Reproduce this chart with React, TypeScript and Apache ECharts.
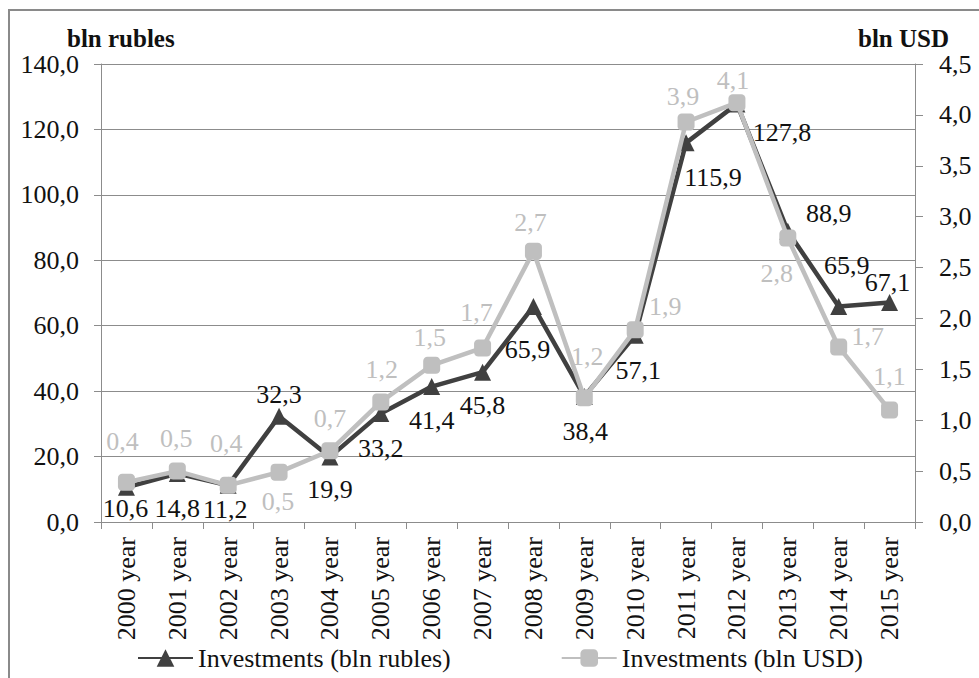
import React, { useEffect, useRef } from "react";
import * as echarts from "echarts";

const categories = [
  "2000 year", "2001 year", "2002 year", "2003 year", "2004 year", "2005 year",
  "2006 year", "2007 year", "2008 year", "2009 year", "2010 year", "2011 year",
  "2012 year", "2013 year", "2014 year", "2015 year",
];
const rublesValues = [10.6, 14.8, 11.2, 32.3, 19.9, 33.2, 41.4, 45.8, 65.9, 38.4, 57.1, 115.9, 127.8, 88.9, 65.9, 67.1];
const usdValues = [0.39, 0.5, 0.36, 0.49, 0.7, 1.18, 1.54, 1.71, 2.66, 1.22, 1.89, 3.93, 4.12, 2.79, 1.72, 1.1];

const leftAxisMin = 0;
const leftAxisMax = 140;
const leftAxisInterval = 20;
const rightAxisMin = 0;
const rightAxisMax = 4.5;
const rightAxisInterval = 0.5;

const rublesName = "Investments (bln rubles)";
const usdName = "Investments (bln USD)";
const leftUnit = "bln rubles";
const rightUnit = "bln USD";

// label offsets (style): dx, dy from the marker centre
const rublesLabelOffsets = [
  [-1, 21], [0, 35], [-3, 24], [0, -22], [0, 33], [0, 35], [0, 34], [0, 33],
  [-6, 43], [1, 35], [3, 35], [27, 35], [45, 29], [41, -18], [8, -41], [-2, -20],
];
const usdLabelOffsets = [
  [-4, -41], [-1, -33], [-2, -42], [-1, 29], [0, -32], [1, -32], [-2, -28], [-6, -35],
  [-3, -29], [3, -41], [30, -23], [-3, -26], [-4, -22], [-11, 35], [29, -10], [0, -34],
];

const FONT = "'Liberation Serif', 'Times New Roman', serif";
const DARK = "#404040";
const LIGHT = "#bfbfbf";
const AXIS = "#8c8c8c";

const fmt = (v: number) => v.toFixed(1).replace(".", ",");

export default function App() {
  const ref = useRef<HTMLDivElement>(null);
  useEffect(() => {
    if (!ref.current) return;
    const chart = echarts.init(ref.current, undefined, { renderer: "svg" });
    chart.setOption({
      animation: false,
      backgroundColor: "#ffffff",
      grid: { left: 101, right: 64, top: 64, bottom: 156, containLabel: false },
      graphic: [
        {
          type: "rect",
          shape: { x: 9, y: 10, width: 1000, height: 1000 },
          style: { fill: "none", stroke: "#8a8a8a", lineWidth: 2 },
          silent: true,
        },
        {
          type: "text",
          x: 67,
          y: 38.5,
          style: {
            text: leftUnit,
            font: `bold 25px ${FONT}`,
            fill: "#111",
            textAlign: "left",
            textVerticalAlign: "middle",
          },
        },
        {
          type: "text",
          x: 949,
          y: 38.5,
          style: {
            text: rightUnit,
            font: `bold 25px ${FONT}`,
            fill: "#111",
            textAlign: "right",
            textVerticalAlign: "middle",
          },
        },
      ],
      legend: {
        left: 137,
        top: 645,
        padding: 0,
        itemWidth: 55,
        itemHeight: 22,
        itemGap: 110,
        textStyle: { fontFamily: FONT, fontSize: 26, color: "#111" },
        data: [rublesName, usdName],
      },
      xAxis: {
        type: "category",
        data: categories,
        boundaryGap: true,
        axisLine: { show: true, lineStyle: { color: AXIS, width: 1 } },
        axisTick: { show: true, length: 7, lineStyle: { color: AXIS } },
        axisLabel: {
          rotate: 90,
          margin: 15,
          interval: 0,
          fontFamily: FONT,
          fontSize: 26,
          color: "#111",
        },
      },
      yAxis: [
        {
          type: "value",
          min: leftAxisMin,
          max: leftAxisMax,
          interval: leftAxisInterval,
          position: "left",
          axisLine: { show: true, lineStyle: { color: AXIS, width: 1 } },
          axisTick: { show: true, length: 7, lineStyle: { color: AXIS } },
          splitLine: { show: true, lineStyle: { color: AXIS, width: 1 } },
          axisLabel: {
            margin: 22,
            fontFamily: FONT,
            fontSize: 26,
            color: "#111",
            formatter: (v: number) => fmt(v),
          },
        },
        {
          type: "value",
          min: rightAxisMin,
          max: rightAxisMax,
          interval: rightAxisInterval,
          position: "right",
          axisLine: { show: true, lineStyle: { color: AXIS, width: 1 } },
          axisTick: { show: true, length: 8, lineStyle: { color: AXIS } },
          splitLine: { show: false },
          axisLabel: {
            margin: 24,
            fontFamily: FONT,
            fontSize: 26,
            color: "#111",
            formatter: (v: number) => fmt(v),
          },
        },
      ],
      series: [
        {
          name: rublesName,
          type: "line",
          yAxisIndex: 0,
          symbol: "triangle",
          symbolSize: 17,
          lineStyle: { color: DARK, width: 4.5 },
          itemStyle: { color: DARK },
          label: {
            show: true,
            position: "inside",
            fontFamily: FONT,
            fontSize: 26,
            color: "#111",
            formatter: (p: any) => fmt(p.value),
          },
          data: rublesValues.map((v, i) => ({
            value: v,
            label: { offset: rublesLabelOffsets[i] },
          })),
          z: 2,
        },
        {
          name: usdName,
          type: "line",
          yAxisIndex: 1,
          symbol: "roundRect",
          symbolSize: 17,
          lineStyle: { color: LIGHT, width: 4.5 },
          itemStyle: { color: LIGHT },
          label: {
            show: true,
            position: "inside",
            fontFamily: FONT,
            fontSize: 26,
            color: LIGHT,
            formatter: (p: any) => fmt(p.value),
          },
          data: usdValues.map((v, i) => ({
            value: v,
            label: { offset: usdLabelOffsets[i] },
          })),
          z: 3,
        },
      ],
    });
    return () => chart.dispose();
  }, []);
  return (
    <div
      ref={ref}
      style={{ position: "absolute", left: 0, top: 0, width: 979, height: 678 }}
    />
  );
}
